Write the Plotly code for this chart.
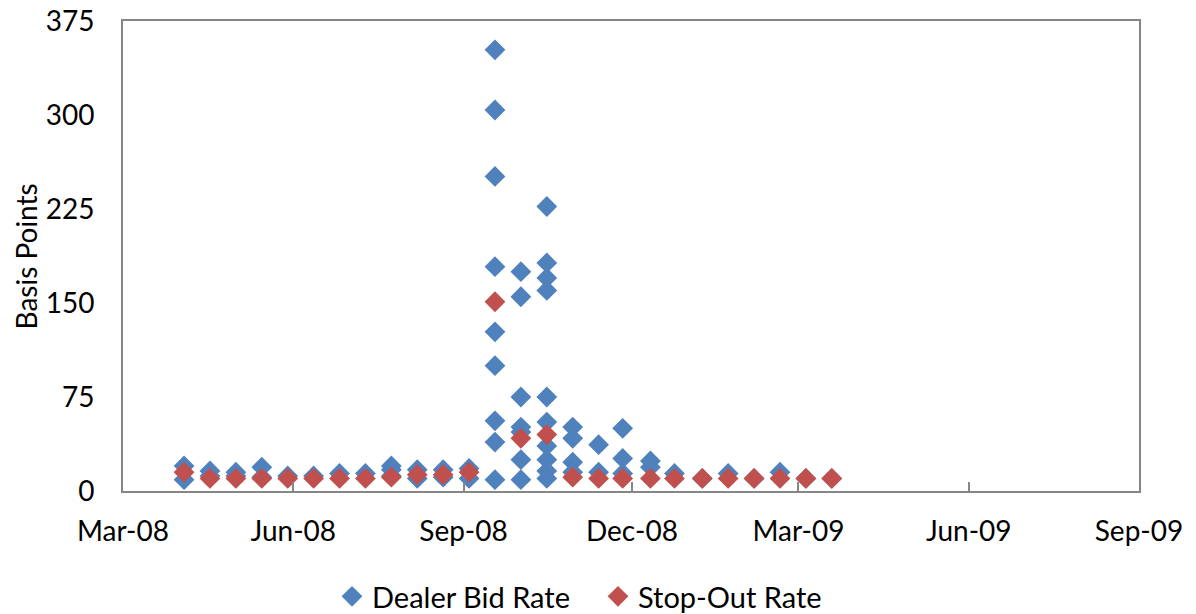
import plotly.graph_objects as go

auction_dates = [
    "2008-04-03", "2008-04-17", "2008-05-01", "2008-05-15", "2008-05-29",
    "2008-06-12", "2008-06-26", "2008-07-10", "2008-07-24", "2008-08-07",
    "2008-08-21", "2008-09-04", "2008-09-18", "2008-10-02", "2008-10-16",
    "2008-10-30", "2008-11-13", "2008-11-26", "2008-12-11", "2008-12-24",
    "2009-01-08", "2009-01-22", "2009-02-05", "2009-02-19", "2009-03-05",
    "2009-03-19",
]

dealer_bids = [
    [20, 9], [16, 12], [15, 12], [19, 11], [12],
    [12], [14], [14], [20, 17, 12], [17, 10],
    [17, 11], [18, 10], [352, 304, 251, 179, 127, 100, 56, 39, 9],
    [175, 155, 75, 51, 47, 25, 9],
    [227, 182, 170, 160, 75, 55, 36, 25, 16, 10],
    [51, 42, 23, 15], [37, 15], [50, 26, 14], [24, 19], [14],
    [10], [14], [10], [15], [10], [10],
]

stop_out_rate = [
    15, 10, 10, 10, 10,
    10, 10, 10, 11, 13,
    13, 15, 151, 42, 45,
    11, 10, 10, 10, 10,
    10, 10, 10, 10, 10, 10,
]

x_ticks = ["2008-03-01", "2008-06-01", "2008-09-01", "2008-12-01",
           "2009-03-01", "2009-06-01", "2009-09-01"]
y_ticks = [0, 75, 150, 225, 300, 375]

bid_x = [d for d, bids in zip(auction_dates, dealer_bids) for _ in bids]
bid_y = [b for bids in dealer_bids for b in bids]

FONT = "Lato, Carlito, Calibri, sans-serif"
AXIS_GRAY = "#868686"

fig = go.Figure()
fig.add_trace(go.Scatter(
    x=bid_x, y=bid_y, mode="markers", name="Dealer Bid Rate",
    marker=dict(symbol="diamond", size=16, color="#4F81BD", line=dict(width=0)),
))
fig.add_trace(go.Scatter(
    x=auction_dates, y=stop_out_rate, mode="markers", name="Stop-Out Rate",
    marker=dict(symbol="diamond", size=16, color="#C0504D", line=dict(width=0)),
))

fig.update_layout(
    width=1196, height=622,
    margin=dict(l=123, r=57, t=21, b=131),
    paper_bgcolor="white", plot_bgcolor="white",
    font=dict(family=FONT, size=28, color="black"),
    showlegend=True,
    legend=dict(
        orientation="h", xref="container", yref="container",
        x=0.5, xanchor="center", y=0.0, yanchor="bottom",
        font=dict(size=29), itemsizing="trace", itemwidth=30,
        entrywidth=221, entrywidthmode="pixels",
        tracegroupgap=0,
    ),
    xaxis=dict(
        type="date", range=["2008-03-01", "2009-09-01"],
        tickvals=x_ticks, tickformat="%b-%y",
        showgrid=False, zeroline=False, automargin=False,
        showline=True, linecolor=AXIS_GRAY, linewidth=2, mirror=True,
        ticks="inside", ticklen=9, tickwidth=2, tickcolor=AXIS_GRAY,
        ticklabelstandoff=14, ticklabeloverflow="allow",
        tickfont=dict(size=28),
    ),
    yaxis=dict(
        range=[0, 375], tickvals=y_ticks,
        showgrid=False, zeroline=False, automargin=False,
        showline=True, linecolor=AXIS_GRAY, linewidth=2, mirror=True,
        ticks="", ticklabelstandoff=21, ticklabeloverflow="allow",
        tickfont=dict(size=28),
    ),
    annotations=[dict(
        text="Basis Points", textangle=-90, showarrow=False,
        xref="paper", yref="paper", x=-0.095, y=0.5,
        xanchor="center", yanchor="middle", font=dict(size=28),
    )],
)

fig.write_html(
    "out.html",
    config={"displayModeBar": False},
    post_script="document.body.style.margin='0';document.body.style.overflow='hidden';",
)
